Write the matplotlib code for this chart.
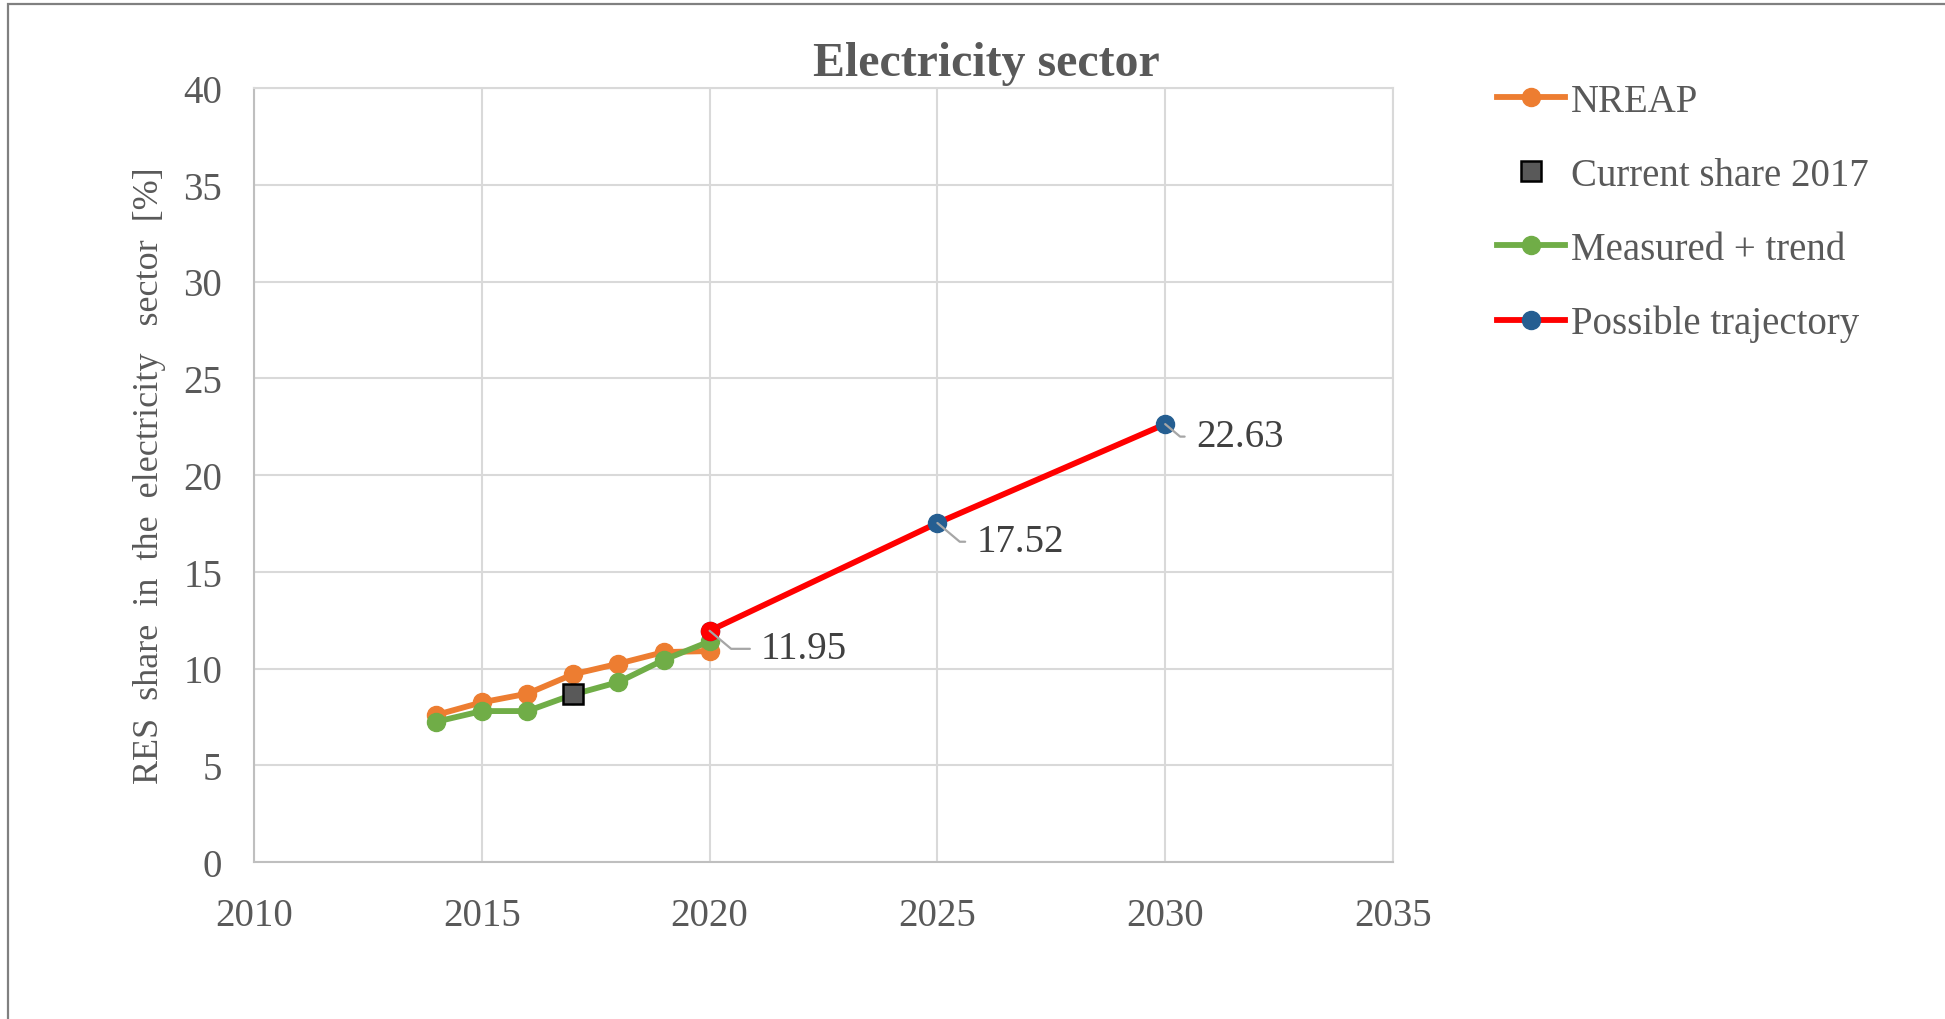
"""
RES share in the electricity sector: NREAP targets, measured values and a possible trajectory to 2030.
"""
import matplotlib
matplotlib.use("Agg")
import matplotlib.pyplot as plt
from matplotlib.patches import Rectangle

plt.rcParams['font.family'] = ['Liberation Serif', 'DejaVu Serif']

# series
nreap_years = [2014, 2015, 2016, 2017, 2018, 2019, 2020]
nreap_share = [7.6, 8.25, 8.7, 9.7, 10.25, 10.85, 10.9]

measured_years = [2014, 2015, 2016, 2017, 2018, 2019, 2020]
measured_share = [7.25, 7.8, 7.8, 8.65, 9.3, 10.45, 11.4]

current_year = [2017]
current_share = [8.7]

traj_years = [2020, 2025, 2030]
traj_share = [11.95, 17.52, 22.63]

x_ticks = [2010, 2015, 2020, 2025, 2030, 2035]
y_ticks = [0, 5, 10, 15, 20, 25, 30, 35, 40]

ORANGE = '#ED7D31'
GREEN = '#70AD47'
RED = '#FF0000'
BLUE = '#255E91'
TXT = '#595959'

fig = plt.figure(figsize=(19.45, 10.2), dpi=100)
fig.patch.set_facecolor('white')

# chart area border (runs off the right and bottom edges)
fig.patches.append(Rectangle((8 / 1945, -0.05), 1.1, 1 - 5 / 1020 + 0.05,
                             transform=fig.transFigure, fill=False,
                             edgecolor='#808080', lw=1.6, zorder=0))

ax = fig.add_axes([254 / 1945, 157 / 1020, 1139 / 1945, 774 / 1020])

ax.plot(nreap_years, nreap_share, color=ORANGE, lw=4.2, marker='o', ms=13,
        label='NREAP', zorder=3)
ax.plot(current_year, current_share, ls='none', marker='s', ms=14,
        mfc='#595959', mec='black', mew=1.8, label='Current share 2017', zorder=6)
ax.plot(measured_years, measured_share, color=GREEN, lw=4.2, marker='o', ms=13,
        label='Measured + trend', zorder=4)
ax.plot(traj_years, traj_share, color=RED, lw=4.2, marker='o', ms=13,
        mfc=BLUE, mec=BLUE, label='Possible trajectory', zorder=5)
# first trajectory point is highlighted in red
ax.plot(traj_years[:1], traj_share[:1], ls='none', marker='o', ms=13,
        mfc=RED, mec=RED, zorder=5)

# value labels with leader lines
label_offsets = [(37, -13), (28, -13.5), (22, -9)]
for x, y, off in zip(traj_years, traj_share, label_offsets):
    ax.annotate(f'{y:.2f}', xy=(x, y), xytext=off, textcoords='offset points',
                ha='left', va='center', fontsize=28, color='#404040', zorder=7,
                arrowprops=dict(arrowstyle='-', color='#A6A6A6', lw=1.6,
                                shrinkA=6, shrinkB=0, relpos=(0, 0.5),
                                connectionstyle='angle,angleA=0,angleB=-40,rad=0'))

ax.set_xlim(2010, 2035)
ax.set_ylim(0, 40)
ax.set_xticks(x_ticks)
ax.set_yticks(y_ticks)
ax.tick_params(length=0, labelsize=28, labelcolor=TXT, pad=23)
ax.tick_params(axis='x', pad=25)
ax.grid(True, color='#D9D9D9', lw=1.5)
ax.set_axisbelow(True)
for side, sp in ax.spines.items():
    sp.set_color('#D9D9D9')
    sp.set_linewidth(1.5)
ax.spines['left'].set_color('#BFBFBF')
ax.spines['bottom'].set_color('#BFBFBF')

fig.text(150 / 1945, 1 - 476 / 1020,
         'RES  share  in  the  electricity   sector  [%]',
         rotation=90, ha='center', va='center', fontsize=26, color=TXT)
fig.text(986 / 1945, 1 - 64 / 1020, 'Electricity sector', ha='center',
         va='center', fontsize=34.5, fontweight='bold', color=TXT)

fig.legend(loc='upper left', bbox_to_anchor=(1497 / 1945, 1 - 84 / 1020),
           frameon=False, fontsize=28, labelcolor=TXT, handlelength=1.75,
           handletextpad=0.15, labelspacing=0.95, borderpad=0, borderaxespad=0)

fig.savefig('out.png', dpi=100)
